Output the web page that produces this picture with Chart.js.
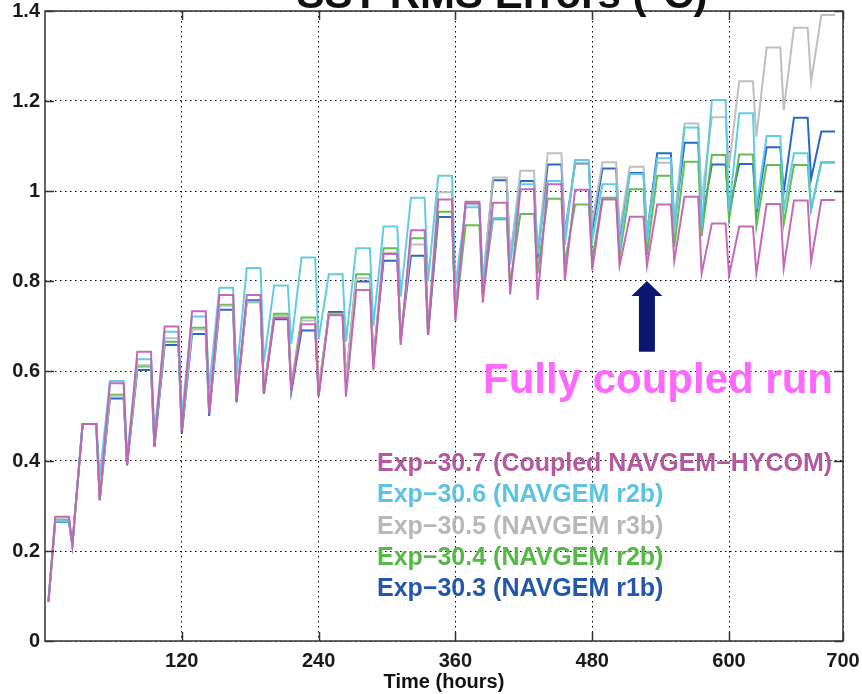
<!DOCTYPE html>
<html><head><meta charset="utf-8">
<script src="https://cdn.jsdelivr.net/npm/chart.js@4/dist/chart.umd.min.js"></script>
<style>html,body{margin:0;padding:0;background:#fff;}#wrap{width:862px;height:694px;}</style>
</head><body><div id="wrap"><canvas id="c" width="862" height="694"></canvas></div>
<script>
// ---------- data ----------
const titleText = 'SST RMS Errors (°C)';
const xAxisTitle = 'Time (hours)';
const xTickValues = [120, 240, 360, 480, 600, 700];
const yTickValues = [0, 0.2, 0.4, 0.6, 0.8, 1.0, 1.2, 1.4];
const seriesNames = [
  'Exp\u221230.7 (Coupled NAVGEM\u2212HYCOM)',
  'Exp\u221230.6 (NAVGEM r2b)',
  'Exp\u221230.5 (NAVGEM r3b)',
  'Exp\u221230.4 (NAVGEM r2b)',
  'Exp\u221230.3 (NAVGEM r1b)'
];
// daily cycles: trough hour, plateau start hour, plateau end hour
const troughHours = [3,24,48,72,96,120,144,168,192,216,240,264,288,312,336,360,384,408,432,456,480,504,528,552,576,600,624,648,672];
const plateauStartHours = [9,33,57,81,105,129,153,177,201,225,249,273,297,321,345,369,393,417,441,465,489,513,537,561,585,609,633,657,681];
const plateauEndHours = [21,45,69,93,117,141,165,189,213,237,261,285,309,333,357,381,405,429,453,477,501,525,549,573,597,621,645,669,693];

const peak307 = [0.276,0.482,0.573,0.643,0.699,0.733,0.769,0.769,0.718,0.704,0.724,0.780,0.860,0.913,0.981,0.976,0.974,1.004,1.015,1.003,0.981,0.943,0.970,0.987,0.928,0.921,0.971,0.979,0.980];
const trough307 = [0.087,0.213,0.313,0.391,0.432,0.467,0.506,0.532,0.549,0.556,0.543,0.543,0.602,0.658,0.680,0.710,0.752,0.770,0.758,0.800,0.824,0.834,0.834,0.845,0.817,0.812,0.817,0.829,0.843];

const peak306 = [0.266,0.482,0.578,0.626,0.687,0.721,0.785,0.829,0.790,0.852,0.815,0.873,0.921,0.985,1.034,0.964,0.940,1.015,1.022,1.069,1.015,1.038,1.073,1.141,1.202,1.173,1.122,1.084,1.063];
const trough306 = [0.087,0.213,0.365,0.410,0.460,0.500,0.560,0.590,0.620,0.660,0.670,0.665,0.700,0.765,0.800,0.790,0.795,0.836,0.860,0.880,0.890,0.870,0.890,0.910,0.920,0.954,0.960,0.958,0.960];

const peak305 = [0.268,0.482,0.545,0.613,0.673,0.692,0.745,0.754,0.722,0.712,0.726,0.806,0.863,0.881,0.997,0.970,1.030,1.045,1.084,1.063,1.064,1.054,1.063,1.150,1.164,1.244,1.319,1.363,1.391];
const trough305 = [0.087,0.213,0.318,0.395,0.440,0.470,0.510,0.540,0.560,0.565,0.560,0.580,0.620,0.670,0.700,0.730,0.800,0.847,0.860,0.900,0.930,0.910,0.905,0.930,0.980,1.054,1.120,1.180,1.243];

const peak304 = [0.270,0.482,0.547,0.610,0.665,0.696,0.747,0.753,0.727,0.719,0.728,0.815,0.873,0.895,0.954,0.924,0.937,0.949,0.983,0.970,0.985,1.004,1.034,1.065,1.080,1.081,1.058,1.058,1.064];
const trough304 = [0.087,0.213,0.315,0.392,0.435,0.468,0.510,0.540,0.555,0.565,0.560,0.580,0.615,0.665,0.690,0.720,0.770,0.790,0.817,0.839,0.847,0.855,0.858,0.876,0.900,0.936,0.921,0.927,0.958];

const peak303 = [0.265,0.482,0.539,0.602,0.658,0.682,0.736,0.757,0.715,0.690,0.731,0.799,0.845,0.856,0.942,0.972,1.024,1.022,1.059,1.061,1.050,1.040,1.084,1.107,1.059,1.060,1.097,1.163,1.132];
const trough303 = [0.087,0.213,0.313,0.390,0.432,0.460,0.500,0.530,0.550,0.553,0.545,0.575,0.624,0.670,0.680,0.729,0.790,0.847,0.850,0.906,0.913,0.900,0.902,0.925,0.929,0.954,0.950,0.998,1.027];

const annotationText = 'Fully coupled run';
const arrowHour = 528, arrowTipValue = 0.8, arrowBaseValue = 0.643;

// ---------- styles ----------
const lineColors = ['rgba(196,96,180,0.95)','rgba(92,200,228,0.95)','rgba(188,188,188,0.95)','rgba(88,186,70,0.95)','rgba(30,96,196,0.95)'];
const textColors = ['rgb(180,88,160)','rgb(92,196,224)','rgb(184,184,184)','rgb(86,184,70)','rgb(36,86,172)'];
const FONT = '"Liberation Sans", Arial, Helvetica, sans-serif';

function buildSeries(peaks, troughs) {
  const pts = [];
  for (let k = 0; k < peaks.length; k++) {
    pts.push({x: troughHours[k], y: troughs[k]});
    pts.push({x: plateauStartHours[k], y: peaks[k]});
    pts.push({x: plateauEndHours[k], y: peaks[k]});
  }
  return pts;
}
const seriesData = [
  buildSeries(peak307, trough307),
  buildSeries(peak306, trough306),
  buildSeries(peak305, trough305),
  buildSeries(peak304, trough304),
  buildSeries(peak303, trough303)
];

const overlay = {
  id: 'overlay',
  afterDraw(chart) {
    const {ctx, chartArea: a, scales: {x, y}} = chart;
    ctx.save();
    ctx.strokeStyle = '#333';
    ctx.lineWidth = 1.5;
    ctx.strokeRect(a.left, a.top, a.right - a.left, a.bottom - a.top);
    const tl = 9;
    ctx.beginPath();
    xTickValues.forEach(v => {
      const px = Math.round(x.getPixelForValue(v)) + 0.5;
      ctx.moveTo(px, a.bottom); ctx.lineTo(px, a.bottom - tl);
      ctx.moveTo(px, a.top); ctx.lineTo(px, a.top + tl);
    });
    yTickValues.forEach(v => {
      const py = Math.round(y.getPixelForValue(v)) + 0.5;
      ctx.moveTo(a.left, py); ctx.lineTo(a.left + tl, py);
      ctx.moveTo(a.right, py); ctx.lineTo(a.right - tl, py);
    });
    ctx.stroke();
    // title (cropped at top)
    ctx.fillStyle = '#111';
    ctx.font = 'bold 42px ' + FONT;
    ctx.textAlign = 'center';
    ctx.textBaseline = 'alphabetic';
    ctx.fillText(titleText, 502, 8);
    // arrow
    const ax = x.getPixelForValue(arrowHour);
    const tipY = y.getPixelForValue(arrowTipValue);
    const baseY = y.getPixelForValue(arrowBaseValue);
    ctx.fillStyle = '#0b1672';
    ctx.beginPath();
    ctx.moveTo(ax, tipY);
    ctx.lineTo(ax + 15.5, tipY + 15);
    ctx.lineTo(ax + 8, tipY + 15);
    ctx.lineTo(ax + 8, baseY);
    ctx.lineTo(ax - 8, baseY);
    ctx.lineTo(ax - 8, tipY + 15);
    ctx.lineTo(ax - 15.5, tipY + 15);
    ctx.closePath();
    ctx.fill();
    // annotation
    ctx.fillStyle = 'rgb(255,104,255)';
    ctx.font = 'bold 42px ' + FONT;
    ctx.textAlign = 'left';
    ctx.fillText(annotationText, a.left + 438, a.top + 382);
    // legend
    ctx.font = 'bold 25px ' + FONT;
    seriesNames.forEach((n, i) => {
      ctx.fillStyle = textColors[i];
      ctx.fillText(n, a.left + 332, a.top + 460 + i * 31.3);
    });
    ctx.restore();
  }
};

new Chart(document.getElementById('c'), {
  type: 'line',
  data: {
    datasets: seriesData.map((d, i) => ({
      label: seriesNames[i],
      data: d,
      borderColor: lineColors[i],
      backgroundColor: lineColors[i],
      borderWidth: 2,
      pointRadius: 0,
      tension: 0,
      fill: false
    }))
  },
  options: {
    responsive: false,
    animation: false,
    devicePixelRatio: 1,
    layout: {padding: {top: 11, right: 19, left: 0, bottom: 0}},
    plugins: {legend: {display: false}, tooltip: {enabled: false}, title: {display: false}},
    scales: {
      x: {
        type: 'linear', min: 0, max: 700,
        afterBuildTicks: s => { s.ticks = xTickValues.map(v => ({value: v})); },
        afterFit: s => { s.height = 53; s.paddingLeft = 0; s.paddingRight = 0; },
        grid: {color: '#000', lineWidth: 1, drawTicks: false},
        border: {display: false, dash: [1.5, 3.5]},
        ticks: {color: '#1a1a1a', font: {family: FONT, size: 20, weight: 'bold'}, padding: 8, maxRotation: 0, autoSkip: false,
                callback: v => String(v)},
        title: {display: true, text: xAxisTitle, color: '#111', font: {family: FONT, size: 20, weight: 'bold'}, padding: {top: 0, bottom: 0}}
      },
      y: {
        type: 'linear', min: 0, max: 1.4,
        afterBuildTicks: s => { s.ticks = yTickValues.map(v => ({value: v})); },
        afterFit: s => { s.width = 45; s.paddingTop = 0; s.paddingBottom = 0; },
        grid: {color: '#000', lineWidth: 1, drawTicks: false},
        border: {display: false, dash: [1.5, 3.5]},
        ticks: {color: '#1a1a1a', font: {family: FONT, size: 20, weight: 'bold'}, padding: 5,
                callback: v => String(Math.round(v * 10) / 10)}
      }
    }
  },
  plugins: [overlay]
});
</script></body></html>
